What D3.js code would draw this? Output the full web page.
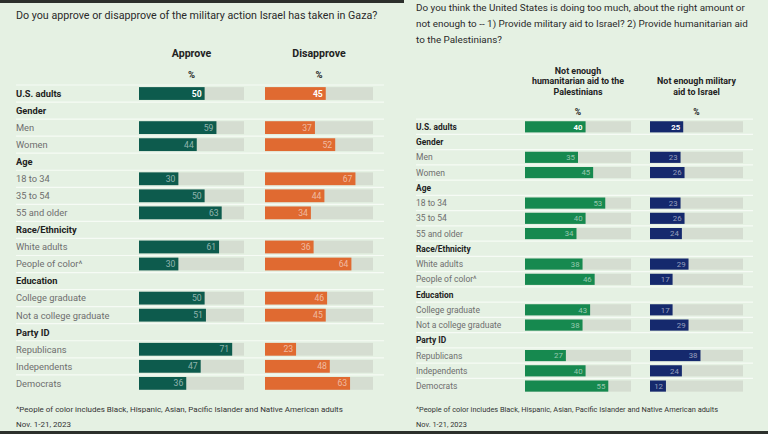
<!DOCTYPE html>
<html><head><meta charset="utf-8">
<script src="https://cdn.jsdelivr.net/npm/d3@7"></script>
<style>
body{margin:0;background:#e5f1e3;}
svg{display:block;font-family:Roboto,"Liberation Sans",Arial,sans-serif;}
</style>
</head><body>
<svg id="chart" width="768" height="434"></svg>
<script>
// ---- data ----
const rowLabels = ["U.S. adults","Gender","Men","Women","Age","18 to 34","35 to 54","55 and older",
  "Race/Ethnicity","White adults","People of color^","Education","College graduate","Not a college graduate",
  "Party ID","Republicans","Independents","Democrats"];
const rowKinds = ["total","group","item","item","group","item","item","item",
  "group","item","item","group","item","item","group","item","item","item"];
const approve    = [50,null,59,44,null,30,50,63,null,61,30,null,50,51,null,71,47,36];
const disapprove = [45,null,37,52,null,67,44,34,null,36,64,null,46,45,null,23,48,63];
const humanitarianNotEnough = [40,null,35,45,null,53,40,34,null,38,46,null,43,38,null,27,40,55];
const militaryNotEnough     = [25,null,23,26,null,23,26,24,null,29,17,null,17,29,null,38,24,12];

const leftTitle = ["Do you approve or disapprove of the military action Israel has taken in Gaza?"];
const rightTitle = ["Do you think the United States is doing too much, about the right amount or",
  "not enough to -- 1) Provide military aid to Israel? 2) Provide humanitarian aid",
  "to the Palestinians?"];
const leftHeaders = [["Approve"],["Disapprove"]];
const rightHeaders = [["Not enough","humanitarian aid to the","Palestinians"],["Not enough military","aid to Israel"]];
const footnote = "^People of color includes Black, Hispanic, Asian, Pacific Islander and Native American adults";
const dateNote = "Nov. 1-21, 2023";

const svg = d3.select("#chart");
const BG = "#e5f1e3";
svg.append("rect").attr("width",768).attr("height",434).attr("fill",BG);

function drawPanel(g, cfg){
  cfg.title.forEach((t,i)=>{
    g.append("text").attr("x",cfg.labelX).attr("y",cfg.titleY + i*cfg.titleLH)
      .attr("font-size",cfg.titleSize).attr("fill","#2a2a2a").text(t);
  });
  const y = d3.scaleBand().domain(d3.range(rowLabels.length))
    .range([cfg.rowTop, cfg.rowTop + cfg.step*rowLabels.length]).paddingInner(cfg.pad).paddingOuter(cfg.pad/2);
  d3.range(rowLabels.length).forEach(i=>{
    const yy = cfg.rowTop + i*cfg.step;
    g.append("line").attr("x1",cfg.labelX).attr("x2",cfg.lineX2).attr("y1",yy).attr("y2",yy)
      .attr("stroke","#f6fbf5").attr("stroke-width",1.2);
  });
  g.selectAll("text.lab").data(rowLabels).join("text").attr("class","lab")
    .attr("x",cfg.labelX).attr("y",(d,i)=>cfg.rowTop + (i+0.5)*cfg.step + cfg.labelSize*0.36)
    .attr("font-size",(d,i)=>rowKinds[i]==="item"?cfg.labelSize:cfg.boldSize)
    .attr("font-weight",(d,i)=>rowKinds[i]==="item"?"normal":"bold")
    .attr("fill",(d,i)=>rowKinds[i]==="item"?"#6e6e6e":"#222")
    .text(d=>d);
  cfg.cols.forEach((c,ci)=>{
    const x = d3.scaleLinear().domain([0,c.max]).range(c.range);
    const cx = (c.range[0]+c.range[1])/2;
    c.header.forEach((h,hi)=>{
      g.append("text").attr("x",cx).attr("y",cfg.headerY + hi*cfg.headerLH - (c.header.length-1)*cfg.headerLH)
        .attr("text-anchor","middle").attr("font-size",cfg.headerSize).attr("font-weight","bold").attr("fill","#222").text(h);
    });
    g.append("text").attr("x",cx).attr("y",cfg.pctY).attr("text-anchor","middle")
      .attr("font-size",cfg.pctSize).attr("font-weight","bold").attr("fill","#222").text("%");
    const idx = d3.range(rowLabels.length).filter(i=>c.values[i]!=null);
    g.selectAll(null).data(idx).join("rect")
      .attr("x",c.range[0]).attr("width",c.range[1]-c.range[0])
      .attr("y",i=>y(i)).attr("height",y.bandwidth()).attr("fill","#d5ddd1");
    g.selectAll(null).data(idx).join("rect")
      .attr("x",c.range[0]).attr("width",i=>x(c.values[i])-c.range[0])
      .attr("y",i=>y(i)).attr("height",y.bandwidth()).attr("fill",c.color);
    g.selectAll(null).data(idx).join("text")
      .attr("x",i=>x(c.values[i])-3).attr("y",i=>y(i)+y.bandwidth()/2+cfg.valSize*0.36)
      .attr("text-anchor","end").attr("font-size",cfg.valSize)
      .attr("font-weight",i=>rowKinds[i]==="total"?"bold":"normal")
      .attr("fill","#fff").attr("fill-opacity",i=>rowKinds[i]==="total"?1:0.55)
      .text(i=>c.values[i]);
  });
  g.append("text").attr("x",cfg.labelX).attr("y",cfg.footY).attr("font-size",cfg.footSize).attr("fill","#333").text(footnote);
  g.append("text").attr("x",cfg.labelX).attr("y",cfg.footY+14.7).attr("font-size",cfg.footSize).attr("fill","#333").text(dateNote);
}

drawPanel(svg.append("g"), {
  title:leftTitle, titleY:19, titleLH:16, titleSize:10.7,
  labelX:16, lineX2:384, rowTop:85, step:17.05, pad:0.25,
  labelSize:9.3, boldSize:9.3, valSize:8.6, headerSize:10.6, pctSize:9.5, headerY:57, headerLH:9, pctY:77.8,
  footY:411.8, footSize:8.0,
  cols:[
    {values:approve, color:"#0d5b4d", max:80, range:[139,244], header:leftHeaders[0]},
    {values:disapprove, color:"#e06a31", max:80, range:[265,373], header:leftHeaders[1]}
  ]
});
drawPanel(svg.append("g"), {
  title:rightTitle, titleY:11, titleLH:15.9, titleSize:9.9,
  labelX:416, lineX2:753, rowTop:119.2, step:15.25, pad:0.27,
  labelSize:8.5, boldSize:8.4, valSize:7.8, headerSize:8.9, pctSize:8.6, headerY:94.5, headerLH:10.4, pctY:115.2,
  footY:412, footSize:7.4,
  cols:[
    {values:humanitarianNotEnough, color:"#16894f", max:70, range:[525,631], header:rightHeaders[0]},
    {values:militaryNotEnough, color:"#15296d", max:70, range:[650,743], header:rightHeaders[1]}
  ]
});
svg.append("rect").attr("x",0).attr("y",0).attr("width",404).attr("height",3).attr("fill","#2c302c");
svg.append("rect").attr("x",0).attr("y",431).attr("width",768).attr("height",3).attr("fill","#2c302c");
</script>
</body></html>
